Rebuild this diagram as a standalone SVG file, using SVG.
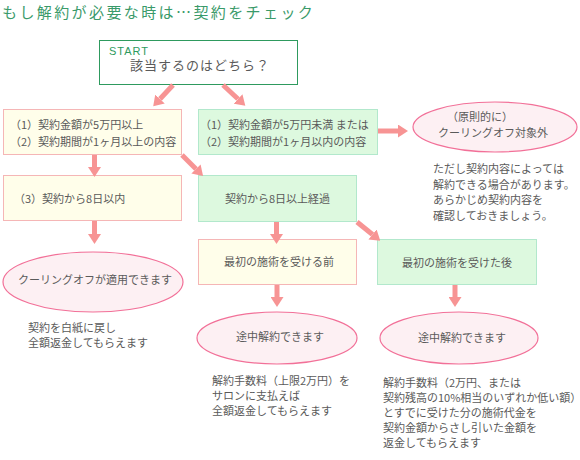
<svg xmlns="http://www.w3.org/2000/svg" width="580" height="460" viewBox="0 0 580 460">
<style>
text{font-family:"Noto Sans CJK JP","Noto Sans",sans-serif;font-size:11px;fill:#5a5a5a}
.title{font-size:15px;fill:#3a9a6a;letter-spacing:2.4px}
.start{font-family:"Liberation Sans",Arial,sans-serif;font-size:11px;fill:#2e9a5e;letter-spacing:1px}
.q{font-size:13px;letter-spacing:1px}
.yb{fill:#fffeea;stroke:#f5b6b6;stroke-width:1}
.gb{fill:#ddf9df;stroke:#b2e8cc;stroke-width:1}
.el{fill:#fdf0f3;stroke:#f27098;stroke-width:1.2}
.ar{stroke:#f79494;stroke-width:5;fill:none;marker-end:url(#ah)}
.c{text-anchor:middle}
</style>
<defs>
<marker id="ah" viewBox="0 0 10 13" markerWidth="10" markerHeight="13" refX="0" refY="6.5" orient="auto" markerUnits="userSpaceOnUse">
<path d="M0,0 L10,6.5 L0,13z" fill="#f79494"/>
</marker>
</defs>
<text class="title" x="2" y="17.5">もし解約が必要な時は…契約をチェック</text>

<g id="start">
<rect x="99.5" y="40.5" width="198" height="44" fill="#fff" stroke="#2e9a5e" stroke-width="1"/>
<text class="start" x="109" y="55">START</text>
<text class="q" x="130" y="70">該当するのはどちら？</text>
</g>

<g id="nodeA">
<rect class="yb" x="3.5" y="109.5" width="178" height="45"/>
<text x="10" y="129">（1）契約金額が5万円以上</text>
<text x="10" y="146">（2）契約期間が1ヶ月以上の内容</text>
</g>

<g id="nodeB">
<rect class="gb" x="198.5" y="109.5" width="179" height="45"/>
<text x="200" y="129">（1）契約金額が5万円未満 または</text>
<text x="200" y="146">（2）契約期間が1ヶ月以内の内容</text>
</g>

<g id="nodeC">
<ellipse class="el" cx="495" cy="127" rx="82" ry="25"/>
<text x="447" y="121">（原則的に）</text>
<text x="438" y="137">クーリングオフ対象外</text>
</g>

<g id="noteC">
<text x="433" y="173">ただし契約内容によっては</text>
<text x="433" y="189">解約できる場合があります。</text>
<text x="433" y="204">あらかじめ契約内容を</text>
<text x="433" y="220">確認しておきましょう。</text>
</g>

<g id="nodeD">
<rect class="yb" x="3.5" y="175.5" width="178" height="45"/>
<text x="14" y="203">（3）契約から8日以内</text>
</g>

<g id="nodeE">
<rect class="gb" x="198.5" y="175.5" width="158" height="46"/>
<text class="c" x="277.5" y="203">契約から8日以上経過</text>
</g>

<g id="nodeF">
<ellipse class="el" cx="93" cy="282" rx="90" ry="30"/>
<text class="c" x="95" y="284">クーリングオフが適用できます</text>
</g>
<g id="noteF">
<text x="28" y="332">契約を白紙に戻し</text>
<text x="28" y="347">全額返金してもらえます</text>
</g>

<g id="nodeG">
<rect class="yb" x="198.5" y="239.5" width="158" height="45"/>
<text class="c" x="279" y="266">最初の施術を受ける前</text>
</g>

<g id="nodeH">
<rect class="gb" x="377.5" y="239.5" width="159" height="45"/>
<text class="c" x="457" y="267">最初の施術を受けた後</text>
</g>

<g id="nodeI">
<ellipse class="el" cx="277" cy="338" rx="80" ry="26"/>
<text class="c" x="280" y="341">途中解約できます</text>
</g>
<g id="noteI">
<text x="212" y="385">解約手数料（上限2万円）を</text>
<text x="212" y="400">サロンに支払えば</text>
<text x="212" y="415">全額返金してもらえます</text>
</g>

<g id="nodeJ">
<ellipse class="el" cx="459" cy="338" rx="79" ry="26"/>
<text class="c" x="462" y="342">途中解約できます</text>
</g>
<g id="noteJ">
<text x="383" y="387">解約手数料（2万円、または</text>
<text x="383" y="402">契約残高の10%相当のいずれか低い額）</text>
<text x="383" y="417">とすでに受けた分の施術代金を</text>
<text x="383" y="432">契約金額からさし引いた金額を</text>
<text x="383" y="447">返金してもらえます</text>
</g>

<g id="connectors">
<line class="ar" x1="173" y1="85" x2="160" y2="99"/>
<line class="ar" x1="223" y1="85" x2="238" y2="99"/>
<line class="ar" x1="378" y1="131" x2="398" y2="131"/>
<line class="ar" x1="94.5" y1="155" x2="94.5" y2="167"/>
<line class="ar" x1="182" y1="155" x2="196" y2="169"/>
<line class="ar" x1="94.5" y1="221" x2="94.5" y2="234"/>
<line class="ar" x1="276.5" y1="222" x2="276.5" y2="234"/>
<line class="ar" x1="357" y1="222" x2="372.5" y2="234.5"/>
<line class="ar" x1="277" y1="285" x2="277" y2="297"/>
<line class="ar" x1="455" y1="285" x2="455" y2="297"/>
</g>
</svg>
